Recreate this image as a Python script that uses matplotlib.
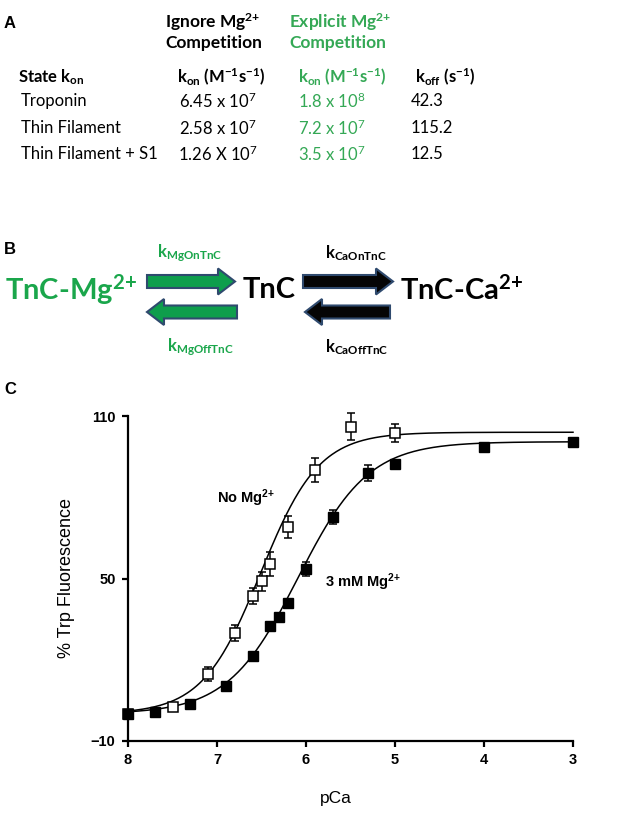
import numpy as np
import matplotlib
matplotlib.use('Agg')
import matplotlib.pyplot as plt
from matplotlib.patches import FancyArrow

plt.rcParams['mathtext.default'] = 'regular'

# panel A table
row_names = ['Troponin', 'Thin Filament', 'Thin Filament + S1']
kon_ignore = ['6.45 x 10$^{7}$', '2.58 x 10$^{7}$', '1.26 X 10$^{7}$']
kon_explicit = ['1.8 x 10$^{8}$', '7.2 x 10$^{7}$', '3.5 x 10$^{7}$']
koff = ['42.3', '115.2', '12.5']

# panel C data
pca_nomg = [8.0, 7.5, 7.1, 6.8, 6.6, 6.5, 6.4, 6.2, 5.9, 5.5, 5.0]
fl_nomg = [0.0, 2.5, 14.7, 30.0, 43.5, 49.0, 55.3, 69.0, 90.0, 106.0, 103.6]
err_nomg = [0.0, 1.0, 2.7, 3.0, 3.0, 3.5, 4.4, 3.9, 4.4, 5.0, 3.3]

pca_mg = [8.0, 7.7, 7.3, 6.9, 6.6, 6.4, 6.3, 6.2, 6.0, 5.7, 5.3, 5.0, 4.0, 3.0]
fl_mg = [0.0, 0.7, 3.7, 10.3, 21.4, 32.4, 35.8, 40.8, 53.5, 72.7, 88.9, 92.2, 98.5, 100.3]
err_mg = [0, 0, 0, 0, 0, 0, 0, 0, 2.6, 2.6, 3.0, 1.0, 0, 0]

# Hill fit parameters: bottom, top, pCa50, n
fit_nomg = (0.0, 104.0, 6.51, 1.33)
fit_mg = (0.0, 100.5, 6.09, 1.10)

GREEN = '#1aa64b'
GREEN_T = '#34a855'
CAL = 'Lato'
ARIAL = 'Liberation Sans'
MG = 'Mg$^{2{+}}$'


def hill(p, bottom, top, p50, n):
    return bottom + (top - bottom) / (1 + 10 ** (n * (p - p50)))


fig = plt.figure(figsize=(6.26, 8.14), dpi=100)
bg = fig.add_axes([0, 0, 1, 1])
bg.set_xlim(0, 626)
bg.set_ylim(814, 0)
bg.axis('off')

# ---- A
bg.text(4, 23, 'A', fontsize=12, fontweight='bold', family=ARIAL, va='center')
bg.text(165, 22, 'Ignore ' + MG, fontsize=12.5, fontweight='bold', family=CAL, va='center')
bg.text(165, 43, 'Competition', fontsize=12.5, fontweight='bold', family=CAL, va='center')
bg.text(289, 22, 'Explicit ' + MG, fontsize=12.5, fontweight='bold', family=CAL, va='center', color=GREEN_T)
bg.text(289, 43, 'Competition', fontsize=12.5, fontweight='bold', family=CAL, va='center', color=GREEN_T)

hy = 77
bg.text(18, hy, 'State k$_{on}$', fontsize=12, fontweight='bold', family=CAL, va='center')
bg.text(177, hy, 'k$_{on}$ (M$^{-1}$s$^{-1}$)', fontsize=12, fontweight='bold', family=CAL, va='center')
bg.text(298, hy, 'k$_{on}$ (M$^{-1}$s$^{-1}$)', fontsize=12, fontweight='bold', family=CAL, va='center', color=GREEN_T)
bg.text(415, hy, 'k$_{off}$ (s$^{-1}$)', fontsize=12, fontweight='bold', family=CAL, va='center')

rows_y = [101, 128, 154]
for i, y in enumerate(rows_y):
    bg.text(21, y, row_names[i], fontsize=12, family=CAL, va='center')
    bg.text(218, y, kon_ignore[i], fontsize=12, family=CAL, va='center', ha='center')
    bg.text(332, y, kon_explicit[i], fontsize=12, family=CAL, va='center', ha='center', color=GREEN_T)
    bg.text(411, y, koff[i], fontsize=12, family=CAL, va='center')

# ---- B
bg.text(4, 250, 'B', fontsize=12, fontweight='bold', family=ARIAL, va='center')
bg.text(5, 290, 'TnC-' + MG, fontsize=21, fontweight='bold', family=CAL, va='center', color=GREEN)
bg.text(243, 290, 'TnC', fontsize=21, fontweight='bold', family=CAL, va='center')
bg.text(400, 290, 'TnC-Ca$^{2{+}}$', fontsize=21, fontweight='bold', family=CAL, va='center')

arr = dict(width=13, head_width=26, head_length=17, length_includes_head=True, lw=1.5, edgecolor='#2f4a6e')
bg.add_patch(FancyArrow(147, 281.5, 88, 0, facecolor='#0e9e4c', **arr))
bg.add_patch(FancyArrow(237, 312, -90, 0, facecolor='#0e9e4c', **arr))
bg.add_patch(FancyArrow(303, 281.5, 90, 0, facecolor='#050505', **arr))
bg.add_patch(FancyArrow(390, 312, -85, 0, facecolor='#050505', **arr))

bg.text(157, 253, 'k$_{MgOnTnC}$', fontsize=12, fontweight='bold', family=CAL, va='center', color=GREEN)
bg.text(167, 347, 'k$_{MgOffTnC}$', fontsize=12, fontweight='bold', family=CAL, va='center', color=GREEN)
bg.text(325, 253, 'k$_{CaOnTnC}$', fontsize=12, fontweight='bold', family=CAL, va='center')
bg.text(325, 347, 'k$_{CaOffTnC}$', fontsize=12, fontweight='bold', family=CAL, va='center')

# ---- C
bg.text(4, 389, 'C', fontsize=12, fontweight='bold', family=ARIAL, va='center')

ax = fig.add_axes([128 / 626, 73 / 814, 445 / 626, 325 / 814])
ax.patch.set_alpha(0)
xs = np.linspace(8, 3, 300)
ax.plot(xs, hill(xs, *fit_nomg), color='black', lw=1.1, clip_on=False)
ax.plot(xs, hill(xs, *fit_mg), color='black', lw=1.1, clip_on=False)

ax.errorbar(pca_nomg, fl_nomg, yerr=err_nomg, fmt='s', ms=7, mfc='white', mec='black', mew=1.1,
            ecolor='black', elinewidth=1.1, capsize=3, capthick=1.1, clip_on=False, zorder=3)
ax.errorbar(pca_mg, fl_mg, yerr=err_mg, fmt='s', ms=7, mfc='black', mec='black',
            ecolor='black', elinewidth=1.1, capsize=3, capthick=1.1, clip_on=False, zorder=4)

ax.text(7.0, 79.7, 'No ' + MG, fontsize=10.5, fontweight='bold', family=ARIAL, va='center')
ax.text(5.79, 48.7, '3 mM ' + MG, fontsize=10.5, fontweight='bold', family=ARIAL, va='center')

ax.set_xlim(8, 3)
ax.set_ylim(-10, 110)
ax.set_xticks([8, 7, 6, 5, 4, 3])
ax.set_yticks([-10, 50, 110])
for s in ['top', 'right']:
    ax.spines[s].set_visible(False)
for s in ['left', 'bottom']:
    ax.spines[s].set_linewidth(1.6)
ax.tick_params(direction='out', length=4, width=1.6, pad=5)
for lab in ax.get_xticklabels() + ax.get_yticklabels():
    lab.set_fontweight('bold')
    lab.set_family(ARIAL)
    lab.set_fontsize(10.5)
ax.set_xlabel('pCa', fontsize=12.5, family=ARIAL)
ax.set_ylabel('% Trp Fluorescence', fontsize=13, family=ARIAL)
ax.xaxis.set_label_coords(0.466, -0.155)
ax.yaxis.set_label_coords(-0.12, 0.5)

fig.savefig('out.png', dpi=100)
